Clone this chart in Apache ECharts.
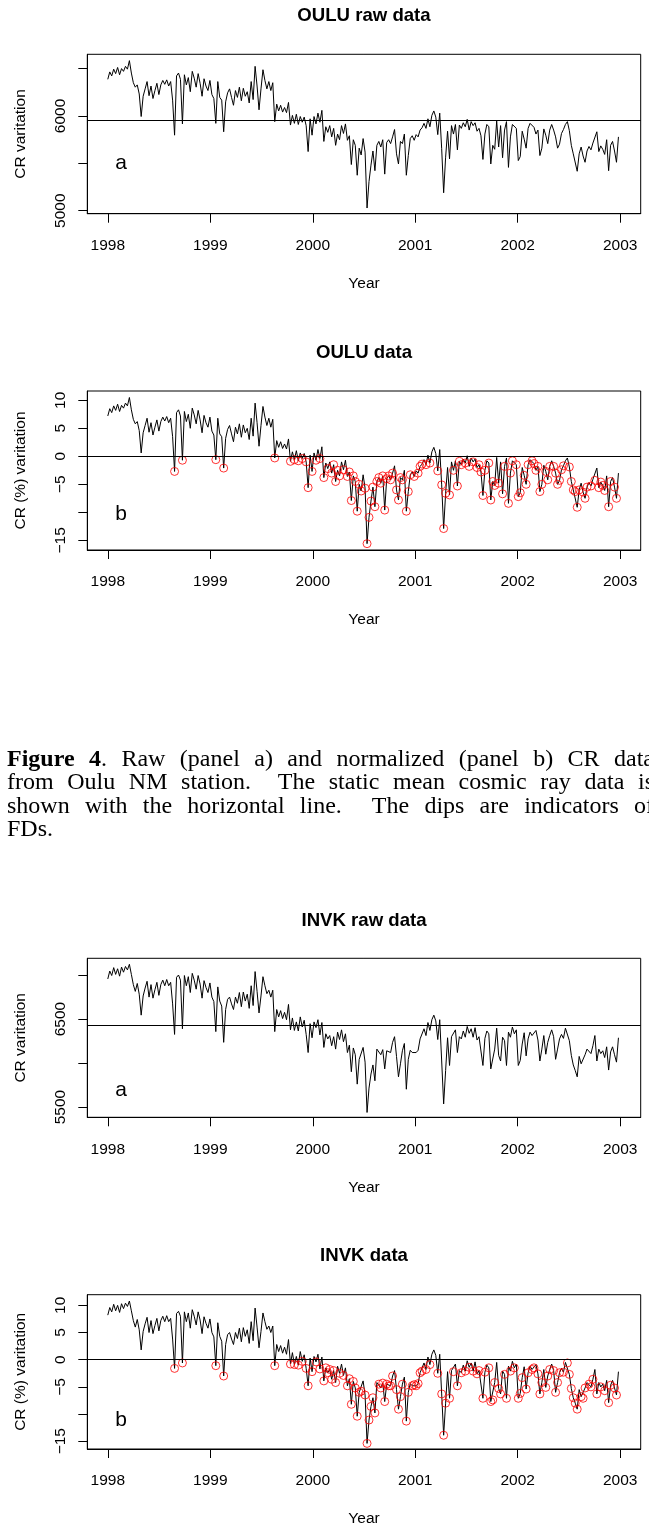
<!DOCTYPE html>
<html><head><meta charset="utf-8">
<script src="https://cdn.jsdelivr.net/npm/echarts@6/dist/echarts.min.js"></script>
<style>
html,body{margin:0;padding:0;background:#fff;overflow:hidden;width:649px;height:1528px;}
#chart{position:absolute;left:0;top:0;width:649px;height:1528px;}
#capwrap{position:absolute;left:0;top:747px;width:649px;height:110px;overflow:hidden;}
#caption{position:absolute;left:7px;top:0;width:647px;font-family:'Liberation Serif','Times New Roman',serif;font-size:24px;line-height:23.4px;color:#000;}
#caption .ln{text-align:justify;text-align-last:justify;}
</style></head>
<body>
<div id="chart"></div>
<div id="capwrap"><div id="caption">
<div class="ln"><b>Figure 4</b>. Raw (panel a) and normalized (panel b) CR data</div>
<div class="ln">from Oulu NM station.&nbsp; The static mean cosmic ray data is</div>
<div class="ln">shown with the horizontal line.&nbsp; The dips are indicators of</div>
<div>FDs.</div>
</div></div>
<script>
// ---- sampling: one value per week starting 1998-01-01 ----
const START_YEAR = 1998;
const STEP_DAYS = 7;
const yearTicks = [1998, 1999, 2000, 2001, 2002, 2003];

// ---- OULU raw counts ----
const ouluMean = 5958;
const ouluRaw = [
6387,6465,6423,6494,6447,6512,6435,6500,6471,6524,
6494,6584,6453,6351,6304,6328,6232,5994,6208,6286,
6363,6214,6316,6184,6268,6345,6226,6328,6375,6334,
6381,6316,6363,6167,5797,6423,6453,6387,5916,6435,
6328,6405,6256,6471,6399,6304,6447,6345,6208,6393,
6316,6268,6375,6226,6184,5922,6363,6196,6167,5833,
6149,6244,6286,6196,6113,6268,6196,6304,6161,6292,
6208,6256,6137,6363,6173,6524,6316,6065,6286,6488,
6375,6286,6363,6268,6351,5940,6125,6053,6113,6041,
6089,6035,6143,5904,6006,5922,6018,5910,5994,5934,
5988,5898,5624,5970,5797,5994,5916,6030,5934,6059,
5731,5886,5827,5898,5779,5869,5690,5809,5749,5898,
5815,5916,5743,5791,5487,5749,5690,5374,5660,5588,
5761,5618,5028,5308,5481,5630,5422,5690,5731,5672,
5749,5386,5720,5749,5708,5779,5857,5600,5493,5731,
5708,5809,5374,5582,5761,5791,5743,5803,5779,5851,
5875,5922,5869,5970,5886,6006,6053,5988,5803,6030,
5654,5189,5565,5839,5547,5898,5809,5910,5642,5904,
5869,5928,5886,5964,5851,5940,5898,5928,5839,5869,
5791,5541,5809,5910,5886,5493,5690,5648,5946,5672,
5898,5559,5851,5940,5457,5779,5910,5928,5869,5529,
5571,5839,5755,5660,5869,5922,5910,5880,5809,5851,
5582,5660,5863,5797,5708,5851,5910,5851,5779,5660,
5702,5815,5857,5910,5940,5845,5690,5600,5582,5416,
5600,5672,5577,5511,5630,5678,5642,5714,5702,5833,
5624,5684,5648,5594,5749,5422,5690,5731,5630,5511,5779];

// ---- OULU normalized (%) ----
const ouluPct = [
7.2,8.5,7.8,9.0,8.2,9.3,8.0,9.1,8.6,9.5,
9.0,10.5,8.3,6.6,5.8,6.2,4.6,0.6,4.2,5.5,
6.8,4.3,6.0,3.8,5.2,6.5,4.5,6.2,7.0,6.3,
7.1,6.0,6.8,3.5,-2.7,7.8,8.3,7.2,-0.7,8.0,
6.2,7.5,5.0,8.6,7.4,5.8,8.2,6.5,4.2,7.3,
6.0,5.2,7.0,4.5,3.8,-0.6,6.8,4.0,3.5,-2.1,
3.2,4.8,5.5,4.0,2.6,5.2,4.0,5.8,3.4,5.6,
4.2,5.0,3.0,6.8,3.6,9.5,6.0,1.8,5.5,8.9,
7.0,5.5,6.8,5.2,6.6,-0.3,2.8,1.6,2.6,1.4,
2.2,1.3,3.1,-0.9,0.8,-0.6,1.0,-0.8,0.6,-0.4,
0.5,-1.0,-5.6,0.2,-2.7,0.6,-0.7,1.2,-0.4,1.7,
-3.8,-1.2,-2.2,-1.0,-3.0,-1.5,-4.5,-2.5,-3.5,-1.0,
-2.4,-0.7,-3.6,-2.8,-7.9,-3.5,-4.5,-9.8,-5.0,-6.2,
-3.3,-5.7,-15.6,-10.9,-8.0,-5.5,-9.0,-4.5,-3.8,-4.8,
-3.5,-9.6,-4.0,-3.5,-4.2,-3.0,-1.7,-6.0,-7.8,-3.8,
-4.2,-2.5,-9.8,-6.3,-3.3,-2.8,-3.6,-2.6,-3.0,-1.8,
-1.4,-0.6,-1.5,0.2,-1.2,0.8,1.6,0.5,-2.6,1.2,
-5.1,-12.9,-6.6,-2.0,-6.9,-1.0,-2.5,-0.8,-5.3,-0.9,
-1.5,-0.5,-1.2,0.1,-1.8,-0.3,-1.0,-0.5,-2.0,-1.5,
-2.8,-7.0,-2.5,-0.8,-1.2,-7.8,-4.5,-5.2,-0.2,-4.8,
-1.0,-6.7,-1.8,-0.3,-8.4,-3.0,-0.8,-0.5,-1.5,-7.2,
-6.5,-2.0,-3.4,-5.0,-1.5,-0.6,-0.8,-1.3,-2.5,-1.8,
-6.3,-5.0,-1.6,-2.7,-4.2,-1.8,-0.8,-1.8,-3.0,-5.0,
-4.3,-2.4,-1.7,-0.8,-0.3,-1.9,-4.5,-6.0,-6.3,-9.1,
-6.0,-4.8,-6.4,-7.5,-5.5,-4.7,-5.3,-4.1,-4.3,-2.1,
-5.6,-4.6,-5.2,-6.1,-3.5,-9.0,-4.5,-3.8,-5.5,-7.5,-3.0];

// week indices of the dips marked with red circles (OULU)
const ouluDipWeeks = [34,38,55,59,85,93,95,97,99,101,102,104,106,108,110,112,114,115,116,117,118,120,122,123,124,125,126,127,128,129,131,132,133,134,135,136,137,138,139,140,141,142,143,144,145,147,148,149,150,152,153,154,156,158,159,160,162,164,168,170,171,172,174,176,178,179,180,182,184,186,188,189,190,191,192,194,195,196,197,199,201,202,204,205,206,208,209,210,212,213,214,216,217,218,219,220,221,223,224,225,227,228,229,230,231,232,235,236,237,238,239,240,242,243,244,246,248,250,251,252,253,255,256,258,259];

// ---- INVK raw counts ----
const invkMean = 6428;
const invkRaw = [
6955,7045,6994,7084,7007,7071,6987,7090,7032,7097,
7058,7122,7007,6891,6814,6904,6782,6544,6762,6852,
6929,6749,6891,6737,6833,6917,6769,6891,6942,6878,
6949,6878,6917,6672,6325,6974,7000,6942,6389,6994,
6878,6981,6801,7019,6942,6839,6994,6897,6737,6936,
6859,6801,6910,6749,6698,6357,6865,6704,6647,6235,
6608,6724,6749,6672,6608,6749,6679,6801,6640,6807,
6704,6782,6621,6878,6653,7039,6814,6569,6762,6981,
6878,6788,6827,6749,6827,6357,6608,6524,6595,6505,
6576,6492,6666,6377,6512,6370,6467,6364,6524,6409,
6486,6325,6119,6447,6287,6467,6402,6492,6319,6460,
6177,6332,6274,6312,6197,6299,6158,6351,6267,6377,
6242,6332,6119,6203,5901,6171,6094,5760,6042,6055,
6177,6010,5438,5715,5875,5978,5798,6158,6139,6094,
6152,5933,6139,6119,6119,6235,6299,6075,5843,5991,
6139,6222,5702,6042,6145,6119,6132,6119,6145,6274,
6293,6389,6312,6460,6370,6492,6544,6479,6267,6492,
6023,5535,5914,6287,5972,6299,6287,6377,6119,6299,
6274,6364,6293,6415,6338,6389,6293,6402,6261,6299,
6312,5972,6280,6364,6332,5933,5952,6158,6396,6087,
6023,6293,6254,5972,6351,6293,6409,6332,6377,5972,
6029,6216,6344,6081,6274,6351,6312,6332,6370,6261,
6023,6158,6312,6100,6235,6312,6377,6299,6042,6158,
6274,6325,6280,6396,6389,6254,6087,5978,5914,5843,
6075,5991,5972,6094,6158,6139,6107,6197,6312,6023,
6158,6107,6139,6062,6184,5920,6126,6184,6094,6010,6287];

// ---- INVK normalized (%) ----
const invkPct = [
8.2,9.6,8.8,10.2,9.0,10.0,8.7,10.3,9.4,10.4,
9.8,10.8,9.0,7.2,6.0,7.4,5.5,1.8,5.2,6.6,
7.8,5.0,7.2,4.8,6.3,7.6,5.3,7.2,8.0,7.0,
8.1,7.0,7.6,3.8,-1.6,8.5,8.9,8.0,-0.6,8.8,
7.0,8.6,5.8,9.2,8.0,6.4,8.8,7.3,4.8,7.9,
6.7,5.8,7.5,5.0,4.2,-1.1,6.8,4.3,3.4,-3.0,
2.8,4.6,5.0,3.8,2.8,5.0,3.9,5.8,3.3,5.9,
4.3,5.5,3.0,7.0,3.5,9.5,6.0,2.2,5.2,8.6,
7.0,5.6,6.2,5.0,6.2,-1.1,2.8,1.5,2.6,1.2,
2.3,1.0,3.7,-0.8,1.3,-0.9,0.6,-1.0,1.5,-0.3,
0.9,-1.6,-4.8,0.3,-2.2,0.6,-0.4,1.0,-1.7,0.5,
-3.9,-1.5,-2.4,-1.8,-3.6,-2.0,-4.2,-1.2,-2.5,-0.8,
-2.9,-1.5,-4.8,-3.5,-8.2,-4.0,-5.2,-10.4,-6.0,-5.8,
-3.9,-6.5,-15.4,-11.1,-8.6,-7.0,-9.8,-4.2,-4.5,-5.2,
-4.3,-7.7,-4.5,-4.8,-4.8,-3.0,-2.0,-5.5,-9.1,-6.8,
-4.5,-3.2,-11.3,-6.0,-4.4,-4.8,-4.6,-4.8,-4.4,-2.4,
-2.1,-0.6,-1.8,0.5,-0.9,1.0,1.8,0.8,-2.5,1.0,
-6.3,-13.9,-8.0,-2.2,-7.1,-2.0,-2.2,-0.8,-4.8,-2.0,
-2.4,-1.0,-2.1,-0.2,-1.4,-0.6,-2.1,-0.4,-2.6,-2.0,
-1.8,-7.1,-2.3,-1.0,-1.5,-7.7,-7.4,-4.2,-0.5,-5.3,
-6.3,-2.1,-2.7,-7.1,-1.2,-2.1,-0.3,-1.5,-0.8,-7.1,
-6.2,-3.3,-1.3,-5.4,-2.4,-1.2,-1.8,-1.5,-0.9,-2.6,
-6.3,-4.2,-1.8,-5.1,-3.0,-1.8,-0.8,-2.0,-6.0,-4.2,
-2.4,-1.6,-2.3,-0.5,-0.6,-2.7,-5.3,-7.0,-8.0,-9.1,
-5.5,-6.8,-7.1,-5.2,-4.2,-4.5,-5.0,-3.6,-1.8,-6.3,
-4.2,-5.0,-4.5,-5.7,-3.8,-7.9,-4.7,-3.8,-5.2,-6.5,-2.2];

// week indices of the dips marked with red circles (INVK)
const invkDipWeeks = [34,38,55,59,85,93,95,97,99,101,102,104,106,108,110,111,112,113,114,115,116,118,120,122,123,124,125,126,127,128,129,131,132,133,134,135,136,138,139,140,141,142,143,144,145,147,148,149,150,152,153,155,156,157,158,159,160,162,164,168,170,171,172,174,176,178,180,182,184,186,188,189,191,192,194,195,196,197,199,200,202,203,205,207,209,210,211,213,214,216,217,219,220,221,223,224,225,227,228,229,230,232,234,235,236,237,238,239,241,242,243,245,246,247,249,251,253,255,256,258,259];

// ---- helpers ----
const yearOf = i => START_YEAR + i * STEP_DAYS / 365.25;
const asPairs = vals => vals.map((v, i) => [yearOf(i), v]);
const pickWeeks = (vals, weeks) => weeks.map(i => [yearOf(i), vals[i]]);
const fmt = v => (v < 0 ? '\u2212' + Math.abs(v) : String(v));

const FONT = 'Liberation Sans';
const GRID_LEFT = 87.3, GRID_W = 553.4;

const panels = [
  {title: 'OULU raw data', titleY: 15, top: 54.3, h: 159.4, ymin: 4968, ymax: 6651,
   ticks: [5000, 5500, 6000, 6500], labels: [5000, 6000], yname: 'CR varitation',
   vals: ouluRaw, ref: ouluMean, dips: null, tag: 'a', tagY: 163},
  {title: 'OULU data', titleY: 352, top: 391, h: 159, ymin: -16.73, ymax: 11.66,
   ticks: [-15, -10, -5, 0, 5, 10], labels: [-15, -5, 0, 5, 10], yname: 'CR (%) varitation',
   vals: ouluPct, ref: 0, dips: ouluDipWeeks, tag: 'b', tagY: 514},
  {title: 'INVK raw data', titleY: 920, top: 958.3, h: 159, ymin: 5383, ymax: 7190,
   ticks: [5500, 6000, 6500, 7000], labels: [5500, 6500], yname: 'CR varitation',
   vals: invkRaw, ref: invkMean, dips: null, tag: 'a', tagY: 1090},
  {title: 'INVK data', titleY: 1255, top: 1294.7, h: 159, ymin: -16.43, ymax: 11.96,
   ticks: [-15, -10, -5, 0, 5, 10], labels: [-15, -5, 0, 5, 10], yname: 'CR (%) varitation',
   vals: invkPct, ref: 0, dips: invkDipWeeks, tag: 'b', tagY: 1420}
];

const option = {
  animation: false,
  backgroundColor: '#fff',
  textStyle: {fontFamily: FONT, color: '#000'},
  title: [], grid: [], xAxis: [], yAxis: [], series: [], graphic: []
};

panels.forEach((p, k) => {
  option.title.push({
    text: p.title, left: GRID_LEFT + GRID_W / 2, top: p.titleY - 9, textAlign: 'center', padding: 0,
    textStyle: {fontFamily: FONT, fontSize: 18.6, fontWeight: 'bold', color: '#000'}
  });
  option.grid.push({
    left: GRID_LEFT, top: p.top, width: GRID_W, height: p.h,
    show: true, borderColor: '#000', borderWidth: 1, backgroundColor: 'transparent'
  });
  option.xAxis.push({
    type: 'value', gridIndex: k, min: 1997.8, max: 2003.2,
    name: 'Year', nameLocation: 'middle', nameGap: 62,
    nameTextStyle: {fontFamily: FONT, fontSize: 15.5, color: '#000'},
    axisLine: {show: true, onZero: false, lineStyle: {color: '#000', width: 1}},
    axisTick: {show: true, length: 9, lineStyle: {color: '#000', width: 1}, customValues: yearTicks},
    axisLabel: {show: true, margin: 24, fontFamily: FONT, fontSize: 15.5, color: '#000',
      customValues: yearTicks, formatter: v => String(Math.round(v))},
    splitLine: {show: false}
  });
  option.yAxis.push({
    type: 'value', gridIndex: k, min: p.ymin, max: p.ymax,
    name: p.yname, nameLocation: 'middle', nameGap: 59,
    nameTextStyle: {fontFamily: FONT, fontSize: 15.5, color: '#000'},
    axisLine: {show: true, onZero: false, lineStyle: {color: '#000', width: 1}},
    axisTick: {show: true, length: 9, lineStyle: {color: '#000', width: 1}, customValues: p.ticks},
    axisLabel: {show: true, rotate: 90, margin: 19, fontFamily: FONT, fontSize: 15.5, color: '#000',
      customValues: p.labels, formatter: fmt},
    splitLine: {show: false}
  });
  option.series.push({
    type: 'line', xAxisIndex: k, yAxisIndex: k, data: asPairs(p.vals),
    showSymbol: false, symbol: 'none', lineStyle: {color: '#000', width: 1}, silent: true, z: 2,
    markLine: {
      silent: true, symbol: ['none', 'none'], label: {show: false},
      lineStyle: {color: '#000', width: 1, type: 'solid'},
      data: [{yAxis: p.ref}]
    }
  });
  if (p.dips) {
    option.series.push({
      type: 'scatter', xAxisIndex: k, yAxisIndex: k, data: pickWeeks(p.vals, p.dips),
      symbol: 'circle', symbolSize: 8, silent: true, z: 3,
      itemStyle: {color: 'rgba(0,0,0,0)', borderColor: '#ff0000', borderWidth: 1}
    });
  }
  option.graphic.push({
    type: 'text', x: 121, y: p.tagY, silent: true,
    style: {text: p.tag, fontFamily: FONT, fontSize: 21, fill: '#000', align: 'center', verticalAlign: 'middle'}
  });
});

const chart = echarts.init(document.getElementById('chart'), null, {renderer: 'canvas'});
chart.setOption(option);
</script>
</body></html>
